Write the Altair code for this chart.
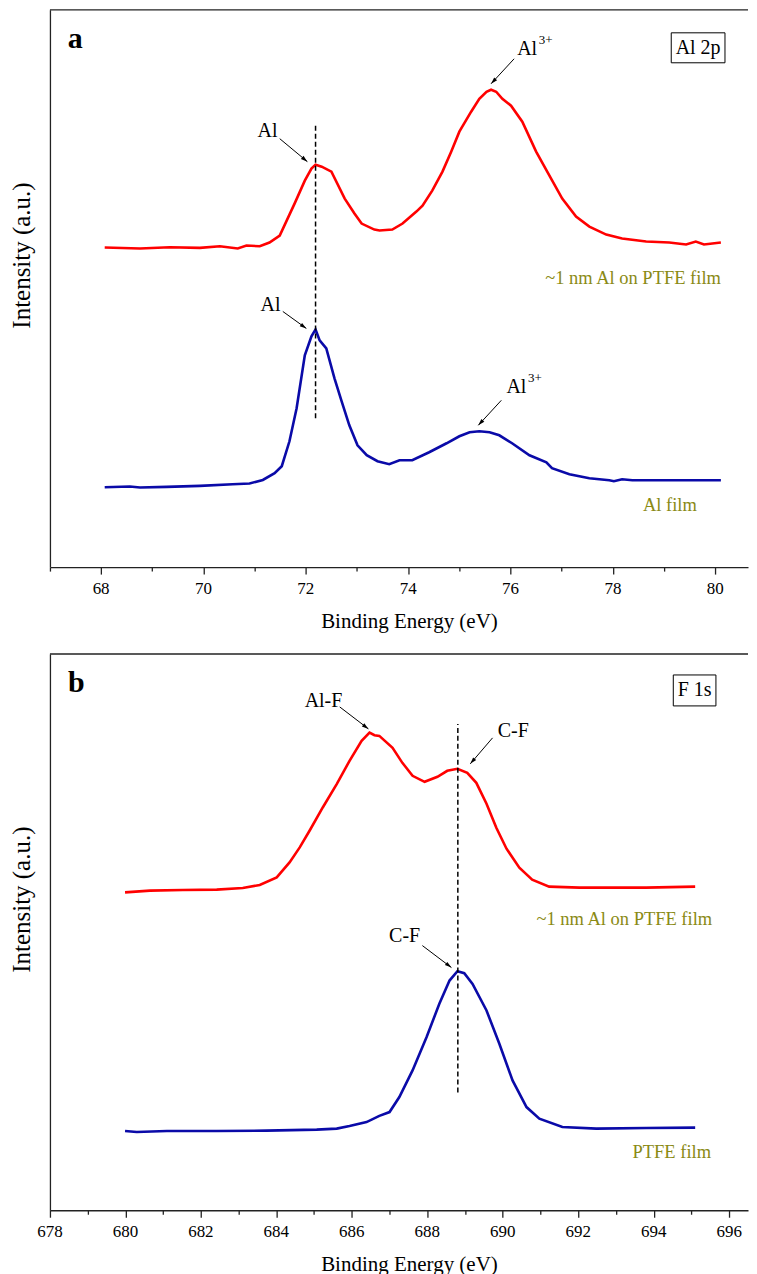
import math
import altair as alt
import pandas as pd

# ---------------- data ----------------
# Panel a: Al 2p
red_a_x = [68.07, 68.76, 69.34, 69.93, 70.32, 70.67, 70.84, 71.10, 71.29, 71.49, 71.78, 71.98, 72.11, 72.19, 72.31,
           72.50, 72.76, 72.95, 73.09, 73.34, 73.44, 73.69, 73.89, 74.16, 74.28, 74.47, 74.67, 74.84, 75.00, 75.23,
           75.39, 75.53, 75.62, 75.72, 75.84, 76.01, 76.23, 76.50, 76.76, 77.01, 77.28, 77.54, 77.87, 78.18, 78.65,
           79.10, 79.43, 79.62, 79.78, 80.11]
red_a_y = [320, 319, 320.3, 319.7, 321.3, 319, 322, 321.3, 325, 332, 364, 387, 399, 403, 401, 396, 369, 354, 344, 338,
           337, 338, 344, 356, 362, 377, 396, 416, 436, 456, 469, 476, 478, 476, 469, 462, 446, 416, 392, 369, 351, 341,
           333, 329, 326, 325, 323, 326, 323, 325]
blue_a_x = [68.07, 68.56, 68.76, 69.28, 69.93, 70.57, 70.90, 71.16, 71.39, 71.53, 71.68, 71.82, 71.98, 72.11, 72.19,
            72.27, 72.40, 72.56, 72.70, 72.85, 73.01, 73.19, 73.40, 73.63, 73.83, 74.08, 74.41, 74.75, 75.00, 75.20,
            75.39, 75.59, 75.78, 76.03, 76.37, 76.70, 76.81, 77.15, 77.54, 77.93, 78.02, 78.18, 78.38, 78.96, 79.29,
            79.62, 80.11]
blue_a_y = [80, 80.7, 79.7, 80.3, 81.3, 83, 83.7, 87.3, 94, 101, 126, 159, 212, 231, 238, 227, 219, 189, 166, 142, 122,
            112, 106, 103, 107, 107, 115, 124, 131, 135, 136, 135, 132, 124, 112, 105, 99, 93, 89, 87, 86, 88, 87, 87,
            87, 87, 87]

# Panel b: F 1s
red_b_x = [679.99, 680.65, 681.52, 682.42, 683.11, 683.56, 684.01, 684.35, 684.62, 684.88, 685.23, 685.60, 685.94,
           686.26, 686.47, 686.60, 686.73, 687.08, 687.34, 687.61, 687.93, 688.27, 688.53, 688.80, 689.06, 689.30,
           689.57, 689.83, 690.10, 690.44, 690.78, 691.23, 692.03, 692.90, 693.80, 695.10]
red_b_y = [318.3, 320, 320.7, 321, 322.7, 325.7, 333.3, 348.3, 363.3, 380, 403.3, 426.7, 450, 470, 478.3, 475.7, 475,
           463, 448, 435, 429, 434, 440, 442, 438, 428, 407, 383, 362, 343, 331, 324, 323, 323, 323, 324]
blue_b_x = [679.99, 680.30, 681.10, 682.42, 683.74, 685.07, 685.60, 685.94, 686.39, 686.73, 687.00, 687.26, 687.61,
            687.98, 688.32, 688.59, 688.80, 688.98, 689.20, 689.57, 689.91, 690.26, 690.63, 690.97, 691.58, 692.48,
            693.80, 695.10]
blue_b_y = [79.3, 78.3, 79.3, 79.3, 79.7, 80.7, 81.7, 84.3, 88.3, 94.5, 98.3, 113.3, 140, 173.3, 206.7, 230, 239.3,
            237.3, 226.7, 200, 166.7, 130, 103.3, 91.7, 83.3, 81.7, 82.3, 82.7]

# tick labels
ticks_a = [68, 70, 72, 74, 76, 78, 80]
ticks_b = [678, 680, 682, 684, 686, 688, 690, 692, 694, 696]
x_title = "Binding Energy (eV)"
y_title = "Intensity (a.u.)"

# annotation arrows (start x, start y, end x, end y) and labels
arr_a = [(71.49, 429, 72.03, 406), (76.07, 509, 75.62, 484), (71.55, 256, 72.01, 239), (75.82, 167, 75.37, 142)]
lab_a_text = ["Al", "Al"]
lab_a_x = [71.25, 71.31]
lab_a_y = [437, 262]
ion_a_x = [76.13, 75.92]   # "Al" of Al3+ (left aligned)
ion_a_y = [519, 180]
sup_a_x = [76.55, 76.34]   # "3+"
sup_a_y = [528, 189]
dash_a = (72.19, 149, 444)
olive_a_text = ["~1 nm Al on PTFE film", "Al film"]
olive_a_x = [80.11, 79.64]
olive_a_y = [289, 62]
box_a = (79.14, 80.19, 505, 535, "Al 2p", 79.665, 520)
letter_a = (67.35, 529, "a")

arr_b = [(685.68, 504, 686.44, 482), (689.73, 473, 689.14, 447), (687.87, 265, 688.64, 243)]
lab_b_text = ["Al-F", "C-F", "C-F"]
lab_b_x = [685.25, 690.28, 687.40]
lab_b_y = [510, 480, 275]
dash_b = (688.81, 118, 487)
olive_b_text = ["~1 nm Al on PTFE film", "PTFE film"]
olive_b_x = [695.55, 695.52]
olive_b_y = [292, 58]
box_b = (694.52, 695.65, 505, 536, "F 1s", 695.085, 520.5)
letter_b = (678.48, 528, "b")

# ---------------- styling ----------------
FONT = "Liberation Serif"
W = 699
HA, HB = 558, 557
RED, BLUE, OLIVE = "#ff0000", "#0a0aa8", "#8a8a14"
AX = "#222222"
HEAD = "M0,0L0.6,2L-0.6,2Z"


def x_axis(vals):
    return alt.Axis(values=vals, labels=False, title=None,
                    tickSize={"condition": {"test": "datum.value % 2 === 0", "value": 7}, "value": 4},
                    grid=False, domainColor=AX, tickColor=AX, domainWidth=1.3, tickWidth=1.3)


def y_axis():
    return alt.Axis(title=None, labels=False, ticks=False, grid=False, domainColor=AX, domainWidth=1.3)


def panel(curves, arrows, labels, ion, dash, olive, box, letter, domain, vals, ticklabs, H):
    xs = alt.Scale(domain=domain, nice=False, zero=False)
    ys = alt.Scale(domain=[0, H], nice=False, zero=False)
    X = lambda f: alt.X(f, type="quantitative", scale=xs, axis=x_axis(vals))
    Y = lambda f: alt.Y(f, type="quantitative", scale=ys, axis=y_axis())
    pxx = W / (domain[1] - domain[0])
    pxy = 1.0

    rows = []
    for name, cx, cy, col in curves:
        for i, (a, b) in enumerate(zip(cx, cy)):
            rows.append({"series": name, "e": a, "i": b, "o": i})
    df = pd.DataFrame(rows)
    names = [c[0] for c in curves]
    cols = [c[3] for c in curves]
    lines = alt.Chart(df).mark_line(strokeWidth=2.6, interpolate="linear").encode(
        x=X("e"), y=Y("i"), order="o:Q",
        color=alt.Color("series:N", scale=alt.Scale(domain=names, range=cols), legend=None))

    ddf = pd.DataFrame([{"e": dash[0], "i": dash[1], "i2": dash[2]}])
    dashed = alt.Chart(ddf).mark_rule(color="black", strokeWidth=1.5, strokeDash=[5, 3]).encode(
        x=X("e"), y=Y("i"), y2="i2")

    arows = []
    for (x1, y1, x2, y2) in arrows:
        dx = (x2 - x1) * pxx
        dy = -(y2 - y1) * pxy
        ang = math.degrees(math.atan2(dx, -dy)) % 360
        arows.append({"x1": x1, "y1": y1, "x2": x2, "y2": y2, "ang": ang})
    adf = pd.DataFrame(arows)
    shafts = alt.Chart(adf).mark_rule(color="black", strokeWidth=1).encode(
        x=X("x1"), y=Y("y1"), x2="x2", y2="y2")
    heads = alt.Chart(adf).mark_point(shape=HEAD, filled=True, color="black", size=45, opacity=1).encode(
        x=X("x2"), y=Y("y2"), angle=alt.Angle("ang:Q", scale=None))

    ldf = pd.DataFrame({"t": labels[0], "e": labels[1], "i": labels[2]})
    labs = alt.Chart(ldf).mark_text(font=FONT, fontSize=20, color="black", baseline="middle").encode(
        x=X("e"), y=Y("i"), text="t:N")

    layers = [lines, dashed, shafts, heads, labs]

    if ion is not None:
        idf = pd.DataFrame({"t": ["Al"] * len(ion[0]), "e": ion[0], "i": ion[1]})
        layers.append(alt.Chart(idf).mark_text(font=FONT, fontSize=20, color="black", baseline="middle",
                                               align="left").encode(x=X("e"), y=Y("i"), text="t:N"))
        sdf = pd.DataFrame({"t": ["3+"] * len(ion[2]), "e": ion[2], "i": ion[3]})
        layers.append(alt.Chart(sdf).mark_text(font=FONT, fontSize=13, color="black", baseline="middle",
                                               align="left").encode(x=X("e"), y=Y("i"), text="t:N"))

    odf = pd.DataFrame({"t": olive[0], "e": olive[1], "i": olive[2]})
    layers.append(alt.Chart(odf).mark_text(font=FONT, fontSize=18.5, color=OLIVE, baseline="middle",
                                           align="right").encode(x=X("e"), y=Y("i"), text="t:N"))

    bdf = pd.DataFrame([{"x1": box[0], "x2": box[1], "y1": box[2], "y2": box[3], "t": box[4],
                         "tx": box[5], "ty": box[6]}])
    layers.append(alt.Chart(bdf).mark_rect(fill="white", stroke="black", strokeWidth=1).encode(
        x=X("x1"), x2="x2", y=Y("y1"), y2="y2"))
    layers.append(alt.Chart(bdf).mark_text(font=FONT, fontSize=20, color="black", baseline="middle").encode(
        x=X("tx"), y=Y("ty"), text="t:N"))

    lt = pd.DataFrame([{"e": letter[0], "i": letter[1], "t": letter[2]}])
    layers.append(alt.Chart(lt).mark_text(font=FONT, fontSize=30, fontWeight="bold", color="black",
                                          baseline="middle", align="left").encode(
        x=X("e"), y=Y("i"), text="t:N"))

    # tick labels and axis titles as serif text
    tdf = pd.DataFrame({"e": ticklabs, "t": [str(v) for v in ticklabs]})
    layers.append(alt.Chart(tdf).mark_text(font=FONT, fontSize=17, color="black", baseline="middle").encode(
        x=X("e"), y=alt.value(H + 22), text="t:N"))
    tt = pd.DataFrame({"t": [x_title]})
    layers.append(alt.Chart(tt).mark_text(font=FONT, fontSize=21, color="black", baseline="middle").encode(
        x=alt.value(360), y=alt.value(H + 55), text="t:N"))
    yt = pd.DataFrame({"t": [y_title]})
    layers.append(alt.Chart(yt).mark_text(font=FONT, fontSize=25, color="black", baseline="middle",
                                          angle=270).encode(
        x=alt.value(-28), y=alt.value(246), text="t:N"))

    top = alt.Chart(pd.DataFrame({"k": [0]})).mark_rule(color=AX, strokeWidth=1.3).encode(
        x=alt.value(0), x2=alt.value(W), y=alt.value(0))
    layers.append(top)

    return alt.layer(*layers).properties(width=W, height=H)


pa = panel([("a_ptfe", red_a_x, red_a_y, RED), ("a_al", blue_a_x, blue_a_y, BLUE)],
           arr_a, (lab_a_text, lab_a_x, lab_a_y), (ion_a_x, ion_a_y, sup_a_x, sup_a_y), dash_a,
           (olive_a_text, olive_a_x, olive_a_y), box_a, letter_a, [67, 80.64], list(range(67, 81)), ticks_a, HA)
pb = panel([("b_ptfe", red_b_x, red_b_y, RED), ("b_film", blue_b_x, blue_b_y, BLUE)],
           arr_b, (lab_b_text, lab_b_x, lab_b_y), None, dash_b,
           (olive_b_text, olive_b_x, olive_b_y), box_b, letter_b, [678, 696.5], list(range(678, 697)), ticks_b, HB)

chart = alt.vconcat(pa, pb, spacing=21).resolve_scale(x="independent", y="independent", color="independent") \
    .configure(padding={"left": 2, "top": 0, "right": 0, "bottom": 0}) \
    .configure_view(stroke=None)

chart.save("out.html", embed_options={"renderer": "svg", "actions": False})
